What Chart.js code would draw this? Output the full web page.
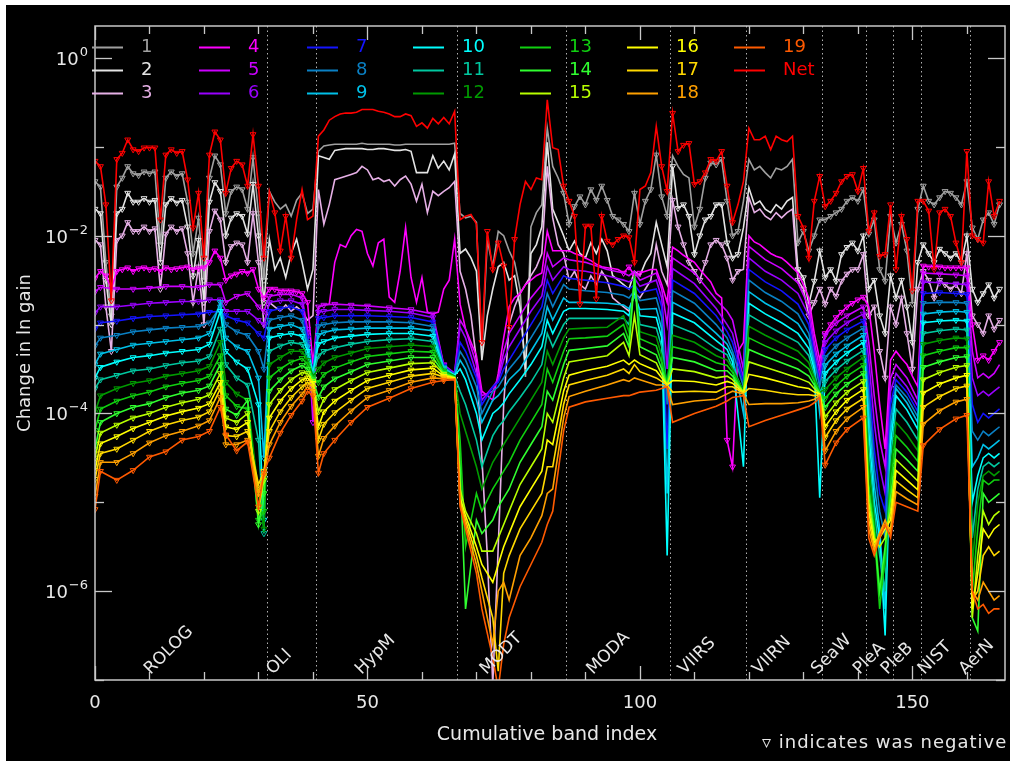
<!DOCTYPE html>
<html>
<head>
<meta charset="utf-8">
<title>Change in ln gain by cumulative band index</title>
<script src="https://cdn.jsdelivr.net/npm/chart.js@4.4.0/dist/chart.umd.min.js"></script>
<style>
  html, body { margin: 0; padding: 0; background: #fff; overflow: hidden; }
  canvas { display: block; }
</style>
</head>
<body>
<canvas id="gainChart" width="1010" height="766"></canvas>
<script>
// Band indices 0..166 across all sensors
const bandIdx = Array.from({ length: 167 }, (_, i) => i);

// Sensor groups: boundaries between them and where their names sit
const sensorEdges = [31.5, 40.5, 66.5, 86.5, 105.5, 119.5, 133.5, 141.5, 146.5, 151.5, 160.5];
const sensorNames = ['ROLOG', 'OLI', 'HypM', 'MODT', 'MODA', 'VIIRS', 'VIIRN', 'SeaW', 'PleA', 'PleB', 'NIST', 'AerN'];
const sensorLabelAt = [10.2, 32.6, 48.9, 71.8, 91.4, 108.2, 121.8, 132.6, 140.3, 145.4, 152.2, 159.7];

const xLabelTicks = [0, 50, 100, 150];
const yDecades = [-7, -6, -5, -4, -3, -2, -1, 0];
const yLabelExps = [0, -2, -4, -6];

// log10 of |change in ln gain|, every band (net and terms 1-4)
const gainNet = [
  -1.16,-1.22,-1.65,-2.73,-1.14,-1.07,-0.92,-1.03,-1.05,-1.01,-1.01,-1.01,-1.82,-1.09,-1.03,-1.07,-1.05,-1.37,-1.91,-1.52,-2.25,-1.09,-0.83,-0.92,-1.52,-1.24,-1.16,-1.20,-1.44,-0.86,-1.44,-2.25,
  -1.50,-1.74,-2.17,-1.78,-2.25,-1.82,-1.48,-1.82,-1.78,
  -0.88,-0.81,-0.70,-0.66,-0.63,-0.62,-0.62,-0.61,-0.58,-0.58,-0.58,-0.60,-0.61,-0.63,-0.66,-0.66,-0.63,-0.65,-0.77,-0.73,-0.79,-0.68,-0.74,-0.67,-0.74,-0.60,
  -1.82,-1.78,-1.76,-1.87,-3.20,-1.95,-2.38,-2.08,-2.34,-3.03,-2.04,-1.65,-1.39,-1.48,-1.35,-1.37,-0.47,-1.01,-1.03,-1.44,
  -1.61,-1.78,-2.77,-1.89,-1.89,-2.71,-1.78,-2.06,-2.10,-2.04,-2.00,-2.02,-2.30,-1.48,-1.44,-1.29,-0.77,-1.22,-1.50,
  -0.62,-1.05,-0.98,-0.96,-1.42,-1.39,-1.29,-1.14,-1.16,-1.05,-1.44,-1.85,-1.65,-1.39,
  -0.79,-0.92,-0.92,-0.88,-1.03,-0.88,-0.92,-0.94,-0.88,-1.78,-1.91,-2.25,-1.61,-1.33,
  -1.67,-1.61,-1.52,-1.39,-1.33,-1.31,-1.50,-1.24,
  -1.95,-1.74,-2.23,-2.21,-1.65,
  -2.38,-1.78,-2.04,-2.62,-1.61,
  -1.61,-1.72,-2.38,-1.74,-1.70,-1.78,-2.08,-2.30,-1.05,
  -2.00,-2.04,-2.08,-1.39,-1.78,-1.61
];
const gain1 = [
  -1.39,-1.45,-2.30,-2.90,-1.45,-1.35,-1.22,-1.30,-1.32,-1.28,-1.30,-1.28,-2.10,-1.35,-1.28,-1.33,-1.30,-1.62,-2.20,-1.80,-2.50,-1.35,-1.10,-1.20,-1.75,-1.50,-1.45,-1.48,-1.70,-1.12,-1.75,-2.50,
  -1.50,-1.62,-1.70,-1.65,-1.78,-1.60,-1.52,-1.75,-1.70,
  -1.05,-0.99,-0.98,-0.97,-0.97,-0.97,-0.97,-0.97,-0.96,-0.97,-0.97,-0.97,-0.97,-0.97,-0.98,-0.98,-0.97,-0.97,-0.97,-0.97,-0.97,-0.97,-0.97,-0.97,-0.97,-0.96,
  -1.75,-1.80,-1.78,-1.85,-3.30,-2.05,-2.35,-1.95,-2.00,-2.17,-2.30,-2.60,-3.59,-1.90,-1.74,-1.65,-0.79,-1.22,-1.35,-1.52,
  -1.87,-1.67,-1.56,-1.65,-1.48,-1.60,-1.44,-1.60,-1.78,-1.82,-1.87,-1.95,-1.52,-1.87,-1.61,-1.48,-1.09,-1.56,-1.78,
  -1.10,-1.22,-1.31,-1.35,-1.90,-1.70,-1.35,-1.18,-1.20,-1.14,-1.61,-2.00,-1.95,-1.61,
  -1.14,-1.26,-1.22,-1.29,-1.35,-1.24,-1.26,-1.22,-1.14,-2.08,-1.95,-2.17,-2.00,-1.82,
  -1.82,-1.78,-1.74,-1.70,-1.61,-1.57,-1.61,-1.48,
  -1.98,-1.82,-2.38,-2.51,-1.78,
  -2.08,-1.87,-2.17,-2.77,-1.70,
  -1.44,-1.61,-1.65,-1.57,-1.50,-1.52,-1.57,-1.65,-1.39,
  -1.91,-2.04,-1.82,-1.74,-1.87,-1.65
];
const gain2 = [
  -1.70,-1.75,-2.50,-3.00,-1.75,-1.70,-1.52,-1.62,-1.62,-1.58,-1.62,-1.60,-2.30,-1.65,-1.58,-1.63,-1.60,-1.90,-2.45,-2.05,-2.75,-1.62,-1.40,-1.50,-2.00,-1.80,-1.75,-1.78,-1.98,-1.42,-2.00,-2.75,
  -2.04,-2.38,-2.25,-2.47,-2.20,-2.04,-2.30,-2.60,-2.38,
  -1.10,-1.12,-1.14,-1.04,-1.03,-1.02,-1.02,-1.02,-1.02,-1.03,-1.03,-1.02,-1.02,-1.03,-1.04,-1.04,-1.03,-1.05,-1.29,-1.29,-1.29,-1.10,-1.24,-1.16,-1.26,-1.08,
  -2.20,-2.15,-2.25,-2.40,-3.40,-2.90,-2.60,-2.35,-2.30,-2.50,-2.45,-2.80,-3.50,-2.20,-2.10,-1.90,-0.95,-1.70,-1.85,-2.00,
  -2.17,-2.06,-2.20,-2.25,-2.08,-2.20,-2.04,-2.17,-2.45,-2.50,-2.55,-2.60,-2.40,-2.45,-2.30,-2.20,-1.85,-2.10,-2.35,
  -1.22,-1.69,-1.65,-1.78,-2.21,-2.00,-1.82,-1.78,-1.65,-1.65,-2.08,-2.25,-2.21,-1.91,
  -1.46,-1.65,-1.61,-1.70,-1.74,-1.65,-1.70,-1.61,-1.57,-2.38,-2.47,-2.77,-2.51,-2.17,
  -2.47,-2.38,-2.51,-2.21,-2.13,-2.08,-2.17,-2.00,
  -2.60,-2.50,-2.90,-3.10,-2.45,
  -2.70,-2.50,-2.80,-3.20,-2.30,
  -2.10,-2.20,-2.30,-2.15,-2.20,-2.25,-2.20,-2.30,-2.00,
  -2.60,-2.75,-2.65,-2.55,-2.70,-2.60
];
const gain3 = [
  -2.05,-2.10,-2.80,-3.30,-2.05,-2.00,-1.85,-1.95,-1.95,-1.90,-1.95,-1.92,-2.60,-1.98,-1.90,-1.95,-1.92,-2.20,-2.75,-2.35,-3.00,-1.95,-1.72,-1.82,-2.30,-2.12,-2.08,-2.10,-2.30,-1.75,-2.30,-3.00,
  -2.75,-2.80,-2.85,-2.78,-2.85,-2.80,-2.85,-2.95,-2.90,
  -1.48,-1.87,-1.65,-1.37,-1.35,-1.33,-1.31,-1.29,-1.22,-1.26,-1.37,-1.35,-1.39,-1.37,-1.44,-1.37,-1.33,-1.42,-1.61,-1.42,-1.74,-1.50,-1.55,-1.50,-1.46,-1.39,
  -2.40,-2.60,-2.90,-3.40,-4.50,-5.60,-7.05,-5.50,-3.90,-3.00,-2.80,-2.65,-2.55,-2.45,-2.35,-2.20,-1.22,-1.80,-2.10,-2.20,
  -2.50,-2.40,-2.55,-2.60,-2.45,-2.55,-2.40,-2.50,-2.70,-2.75,-2.80,-2.85,-2.65,-2.70,-2.60,-2.50,-2.10,-2.40,-2.55,
  -1.60,-1.90,-2.10,-2.30,-2.40,-2.50,-2.30,-2.10,-2.05,-2.10,-2.25,-2.50,-2.40,-2.38,
  -1.57,-1.74,-1.70,-1.78,-1.82,-1.74,-1.80,-1.74,-1.70,-2.50,-2.60,-2.90,-2.75,-2.60,
  -2.77,-2.60,-2.68,-2.51,-2.43,-2.38,-2.38,-2.21,
  -2.90,-2.80,-3.30,-3.60,-2.80,
  -3.00,-2.70,-3.10,-3.50,-2.60,
  -2.40,-2.50,-2.70,-2.50,-2.55,-2.60,-2.55,-2.65,-2.20,
  -2.90,-3.00,-3.10,-2.90,-3.05,-2.95
];
const gain4 = [
  -2.48,-2.40,-2.45,-2.60,-2.40,-2.38,-2.36,-2.40,-2.37,-2.36,-2.38,-2.37,-2.40,-2.36,-2.38,-2.37,-2.36,-2.35,-2.38,-2.37,-2.36,-2.30,-2.17,-2.25,-2.50,-2.45,-2.43,-2.40,-2.42,-2.38,-2.60,-2.70,
  -2.60,-2.60,-2.62,-2.62,-2.62,-2.63,-2.65,-2.75,-3.45,
  -2.80,-2.78,-2.77,-2.30,-2.10,-2.13,-2.00,-1.93,-1.95,-2.20,-2.34,-2.08,-2.04,-2.69,-2.75,-2.40,-1.91,-2.47,-2.75,-2.47,-2.86,-2.88,-2.86,-2.60,-2.50,-2.04,
  -2.77,-3.05,-3.20,-3.35,-3.75,-3.80,-3.85,-3.55,-3.15,-2.80,-2.70,-2.65,-2.55,-2.50,-2.45,-2.42,-1.95,-2.17,-2.17,-2.17,
  -2.17,-2.20,-2.22,-2.25,-2.28,-2.32,-2.35,-2.36,-2.37,-2.38,-2.42,-2.35,-2.45,-2.42,-2.40,-2.38,-2.38,-2.55,-2.75,
  -2.13,-2.17,-2.22,-2.26,-2.30,-2.38,-2.45,-2.52,-2.65,-2.70,-4.30,-4.60,-3.30,-3.20,
  -2.00,-2.07,-2.10,-2.15,-2.20,-2.23,-2.25,-2.30,-2.36,-2.42,-2.55,-2.70,-3.10,-3.40,
  -3.10,-3.00,-2.92,-2.86,-2.80,-2.76,-2.72,-2.69,
  -2.80,-3.30,-3.90,-4.40,-3.40,
  -3.30,-3.38,-3.45,-3.58,-3.70,
  -2.34,-2.35,-2.35,-2.35,-2.36,-2.36,-2.36,-2.36,-2.36,
  -3.00,-3.40,-3.35,-3.40,-3.30,-3.20
];

// Higher-order terms 5-19, read at these bands
const fanBands = [
  0, 1, 4, 7, 10, 13, 16, 19, 21, 23, 24, 26, 28, 30, 31,
  32, 34, 36, 38, 39, 40,
  41, 42, 44, 47, 50, 54, 58, 62, 64, 66,
  67, 68, 70, 71, 73, 74, 75, 76, 78, 80, 82, 83, 84, 86,
  87, 90, 94, 97, 98, 99, 100, 103, 104, 105,
  106, 110, 114, 116, 117, 119,
  120, 123, 126, 129, 131, 132, 133,
  134, 136, 138, 141,
  142, 143, 144, 145, 146,
  147, 149, 151,
  152, 155, 158, 160,
  161, 162, 163, 164, 165, 166
];
const gain5 = [
  -2.63,-2.58,-2.60,-2.60,-2.59,-2.57,-2.57,-2.58,-2.55,-2.55,-2.75,-2.68,-2.65,-2.80,-2.85,
  -2.68,-2.66,-2.66,-2.70,-3.05,-4.10,
  -2.80,-2.78,-2.77,-2.78,-2.79,-2.81,-2.83,-2.88,-3.45,-3.55,
  -2.95,-3.05,-3.45,-3.80,-3.75,-3.60,-3.30,-3.10,-2.90,-2.70,-2.55,-2.20,-2.35,-2.25,
  -2.27,-2.30,-2.38,-2.42,-2.45,-2.40,-2.50,-2.42,-2.60,-3.00,
  -2.25,-2.42,-2.72,-2.85,-2.95,-3.50,
  -2.12,-2.27,-2.37,-2.53,-2.80,-3.20,-3.50,
  -3.12,-2.98,-2.90,-2.80,
  -3.20,-3.80,-4.30,-4.60,-3.60,
  -3.45,-3.60,-3.85,
  -2.42,-2.43,-2.44,-2.45,
  -3.30,-3.60,-3.55,-3.60,-3.55,-3.45
];
const gain6 = [
  -2.87,-2.80,-2.80,-2.78,-2.76,-2.75,-2.74,-2.74,-2.72,-2.72,-2.85,-2.85,-2.85,-2.95,-3.00,
  -2.75,-2.73,-2.73,-2.77,-3.10,-3.60,
  -2.86,-2.85,-2.83,-2.83,-2.84,-2.85,-2.87,-2.92,-3.46,-3.55,
  -3.03,-3.15,-3.55,-3.85,-3.70,-3.62,-3.40,-3.25,-3.05,-2.85,-2.68,-2.35,-2.50,-2.35,
  -2.38,-2.40,-2.45,-2.50,-2.52,-2.48,-2.57,-2.50,-2.70,-3.50,
  -2.37,-2.54,-2.82,-3.00,-3.10,-3.60,
  -2.25,-2.40,-2.50,-2.65,-2.90,-3.27,-3.60,
  -3.20,-3.07,-2.98,-2.88,
  -3.40,-4.10,-4.60,-4.90,-3.75,
  -3.55,-3.70,-3.92,
  -2.52,-2.53,-2.54,-2.55,
  -3.60,-3.80,-3.75,-3.80,-3.75,-3.70
];
const gain7 = [
  -3.05,-2.98,-2.96,-2.93,-2.91,-2.90,-2.89,-2.88,-2.86,-2.85,-2.90,-2.95,-2.98,-3.10,-3.15,
  -2.85,-2.82,-2.80,-2.85,-3.15,-3.55,
  -2.93,-2.92,-2.90,-2.90,-2.90,-2.91,-2.92,-2.97,-3.47,-3.56,
  -3.20,-3.30,-3.60,-3.90,-3.70,-3.65,-3.50,-3.40,-3.20,-3.00,-2.80,-2.50,-2.65,-2.45,
  -2.48,-2.50,-2.53,-2.57,-2.60,-2.55,-2.64,-2.60,-2.80,-4.40,
  -2.50,-2.65,-2.90,-3.08,-3.20,-3.65,
  -2.38,-2.52,-2.62,-2.77,-3.00,-3.34,-3.65,
  -3.28,-3.15,-3.06,-2.96,
  -3.60,-4.40,-4.90,-5.10,-3.90,
  -3.62,-3.76,-3.98,
  -2.65,-2.64,-2.65,-2.66,
  -3.90,-4.10,-4.00,-4.05,-4.00,-3.95
];
const gain8 = [
  -3.24,-3.15,-3.12,-3.08,-3.06,-3.04,-3.03,-3.02,-2.98,-2.80,-3.00,-3.08,-3.12,-3.30,-3.50,
  -2.95,-2.92,-2.90,-2.95,-3.20,-3.55,
  -3.02,-3.00,-2.98,-2.97,-2.97,-2.97,-2.98,-3.02,-3.48,-3.56,
  -3.30,-3.40,-3.70,-4.00,-3.75,-3.70,-3.60,-3.50,-3.35,-3.15,-2.95,-2.65,-2.80,-2.55,
  -2.60,-2.62,-2.64,-2.67,-2.70,-2.62,-2.73,-2.70,-2.92,-3.90,
  -2.62,-2.76,-3.00,-3.15,-3.30,-3.70,
  -2.50,-2.64,-2.74,-2.88,-3.10,-3.40,-3.70,
  -3.37,-3.24,-3.15,-3.04,
  -3.80,-4.60,-5.10,-5.40,-4.05,
  -3.68,-3.82,-4.04,
  -2.76,-2.75,-2.75,-2.76,
  -4.20,-4.30,-4.20,-4.25,-4.20,-4.15
];
const gain9 = [
  -3.45,-3.33,-3.28,-3.23,-3.21,-3.19,-3.17,-3.15,-3.10,-2.75,-3.15,-3.25,-3.30,-3.60,-4.50,
  -3.05,-3.02,-3.00,-3.05,-3.25,-3.55,
  -3.12,-3.09,-3.06,-3.05,-3.04,-3.04,-3.04,-3.07,-3.49,-3.57,
  -3.40,-3.50,-3.85,-4.10,-3.85,-3.80,-3.72,-3.62,-3.50,-3.30,-3.10,-2.80,-2.95,-2.70,
  -2.75,-2.75,-2.76,-2.78,-2.82,-2.68,-2.83,-2.82,-3.05,-4.90,
  -2.75,-2.88,-3.10,-3.22,-3.35,-4.00,
  -2.63,-2.76,-2.86,-2.99,-3.18,-3.46,-4.00,
  -3.46,-3.33,-3.24,-3.12,
  -4.00,-4.80,-5.30,-6.20,-4.20,
  -3.72,-3.88,-4.10,
  -2.88,-2.86,-2.85,-2.86,
  -4.60,-4.50,-4.35,-4.40,-4.35,-4.30
];
const gain10 = [
  -3.60,-3.48,-3.42,-3.37,-3.35,-3.32,-3.30,-3.28,-3.22,-2.85,-3.30,-3.42,-3.50,-3.90,-5.20,
  -3.15,-3.12,-3.10,-3.13,-3.30,-3.56,
  -3.22,-3.19,-3.15,-3.13,-3.11,-3.10,-3.10,-3.13,-3.50,-3.57,
  -3.50,-3.62,-4.00,-4.30,-4.00,-3.95,-3.88,-3.78,-3.62,-3.45,-3.25,-2.95,-3.10,-2.85,
  -2.82,-2.82,-2.83,-2.85,-2.90,-2.60,-2.90,-2.92,-3.15,-5.60,
  -2.87,-2.98,-3.18,-3.28,-3.42,-4.60,
  -2.76,-2.88,-2.98,-3.10,-3.27,-3.51,-4.95,
  -3.55,-3.42,-3.32,-3.20,
  -4.20,-5.00,-5.40,-6.50,-4.35,
  -3.80,-3.96,-4.18,
  -2.98,-2.96,-2.95,-2.96,
  -5.00,-4.70,-4.50,-4.45,-4.50,-4.45
];
const gain11 = [
  -3.72,-3.62,-3.57,-3.52,-3.50,-3.46,-3.43,-3.41,-3.36,-3.05,-3.45,-3.60,-3.68,-4.30,-5.35,
  -3.30,-3.24,-3.20,-3.22,-3.35,-3.57,
  -3.35,-3.30,-3.26,-3.22,-3.19,-3.17,-3.16,-3.19,-3.50,-3.58,
  -3.75,-3.90,-4.30,-4.60,-4.25,-4.15,-4.08,-3.98,-3.82,-3.65,-3.45,-3.10,-3.25,-3.00,
  -2.93,-2.93,-2.93,-2.93,-3.00,-2.55,-3.00,-3.04,-3.25,-3.70,
  -3.00,-3.10,-3.27,-3.34,-3.48,-3.75,
  -2.89,-3.00,-3.10,-3.20,-3.35,-3.56,-3.76,
  -3.64,-3.51,-3.41,-3.29,
  -4.40,-5.10,-5.60,-6.00,-4.50,
  -3.95,-4.10,-4.30,
  -3.10,-3.07,-3.05,-3.06,
  -5.40,-4.85,-4.60,-4.55,-4.60,-4.55
];
const gain12 = [
  -3.99,-3.80,-3.72,-3.66,-3.63,-3.58,-3.55,-3.52,-3.47,-3.20,-3.65,-3.78,-3.85,-4.90,-5.30,
  -3.45,-3.37,-3.30,-3.30,-3.40,-3.58,
  -3.50,-3.43,-3.37,-3.32,-3.27,-3.25,-3.23,-3.25,-3.52,-3.58,
  -4.00,-4.20,-4.60,-4.85,-4.55,-4.45,-4.35,-4.25,-4.05,-3.85,-3.65,-3.30,-3.45,-3.15,
  -3.05,-3.04,-3.03,-2.90,-3.08,-2.50,-3.08,-3.14,-3.35,-3.68,
  -3.12,-3.20,-3.35,-3.40,-3.50,-3.75,
  -3.02,-3.12,-3.21,-3.30,-3.43,-3.60,-3.76,
  -3.73,-3.60,-3.50,-3.37,
  -4.60,-5.20,-6.00,-5.70,-4.65,
  -4.10,-4.24,-4.42,
  -3.22,-3.18,-3.15,-3.16,
  -5.70,-5.00,-4.70,-4.65,-4.70,-4.65
];
const gain13 = [
  -4.19,-3.95,-3.86,-3.80,-3.76,-3.70,-3.66,-3.63,-3.58,-3.35,-3.80,-3.92,-3.95,-5.20,-5.10,
  -3.60,-3.50,-3.42,-3.38,-3.45,-3.60,
  -3.65,-3.56,-3.49,-3.42,-3.36,-3.33,-3.30,-3.31,-3.53,-3.59,
  -4.30,-5.50,-4.90,-5.10,-4.85,-4.75,-4.65,-4.55,-4.30,-4.10,-3.90,-3.50,-3.65,-3.30,
  -3.16,-3.15,-3.13,-3.00,-3.18,-2.45,-3.16,-3.24,-3.43,-3.68,
  -3.25,-3.31,-3.43,-3.46,-3.54,-3.76,
  -3.15,-3.24,-3.32,-3.40,-3.50,-3.64,-3.77,
  -3.83,-3.69,-3.58,-3.46,
  -4.80,-5.30,-6.20,-5.60,-4.80,
  -4.25,-4.38,-4.54,
  -3.35,-3.30,-3.26,-3.26,
  -6.00,-5.30,-4.75,-4.80,-4.75,-4.75
];
const gain14 = [
  -4.40,-4.10,-4.00,-3.93,-3.89,-3.82,-3.77,-3.74,-3.69,-3.45,-3.95,-4.02,-3.85,-5.25,-4.90,
  -3.75,-3.62,-3.52,-3.46,-3.50,-3.62,
  -3.82,-3.70,-3.61,-3.53,-3.45,-3.41,-3.37,-3.37,-3.55,-3.59,
  -4.60,-6.20,-5.20,-5.35,-5.20,-5.05,-4.95,-4.85,-4.55,-4.35,-4.15,-3.75,-3.85,-3.45,
  -3.29,-3.27,-3.24,-3.10,-3.25,-2.48,-3.25,-3.34,-3.50,-3.68,
  -3.37,-3.42,-3.52,-3.52,-3.58,-3.76,
  -3.28,-3.36,-3.43,-3.50,-3.58,-3.68,-3.77,
  -3.93,-3.78,-3.67,-3.55,
  -4.90,-5.35,-6.00,-5.50,-4.95,
  -4.40,-4.52,-4.65,
  -3.48,-3.42,-3.37,-3.36,
  -6.30,-6.45,-4.90,-5.00,-4.95,-4.90
];
const gain15 = [
  -4.50,-4.22,-4.13,-4.05,-4.00,-3.93,-3.88,-3.84,-3.79,-3.55,-4.05,-4.10,-4.00,-5.10,-4.75,
  -3.90,-3.74,-3.62,-3.54,-3.55,-3.64,
  -3.98,-3.84,-3.73,-3.63,-3.54,-3.49,-3.44,-3.43,-3.56,-3.60,
  -4.85,-5.10,-5.35,-5.55,-5.55,-5.40,-5.25,-5.10,-4.80,-4.60,-4.40,-4.00,-4.10,-3.60,
  -3.42,-3.39,-3.35,-3.20,-3.35,-2.90,-3.34,-3.43,-3.56,-3.68,
  -3.50,-3.53,-3.60,-3.58,-3.62,-3.76,
  -3.42,-3.48,-3.54,-3.60,-3.65,-3.72,-3.78,
  -4.04,-3.88,-3.76,-3.64,
  -5.00,-5.40,-5.50,-5.40,-5.10,
  -4.52,-4.64,-4.76,
  -3.62,-3.54,-3.48,-3.46,
  -6.30,-5.60,-5.10,-5.25,-5.15,-5.10
];
const gain16 = [
  -4.64,-4.34,-4.26,-4.17,-4.10,-4.03,-3.98,-3.94,-3.89,-3.65,-4.15,-4.18,-4.10,-4.90,-4.70,
  -4.05,-3.86,-3.72,-3.62,-3.60,-3.66,
  -4.15,-3.98,-3.86,-3.74,-3.63,-3.57,-3.51,-3.49,-3.58,-3.60,
  -4.95,-5.15,-5.50,-5.70,-5.90,-5.70,-5.50,-5.35,-5.05,-4.85,-4.65,-4.30,-4.35,-3.75,
  -3.57,-3.52,-3.47,-3.40,-3.45,-3.40,-3.44,-3.52,-3.60,-3.68,
  -3.63,-3.64,-3.68,-3.64,-3.66,-3.77,
  -3.56,-3.60,-3.65,-3.70,-3.72,-3.76,-3.78,
  -4.15,-3.98,-3.85,-3.73,
  -5.10,-5.45,-5.40,-5.30,-5.20,
  -4.64,-4.75,-4.86,
  -3.77,-3.67,-3.60,-3.57,
  -6.20,-5.80,-5.30,-5.40,-5.30,-5.25
];
const gain17 = [
  -4.74,-4.45,-4.40,-4.30,-4.20,-4.13,-4.08,-4.04,-3.98,-3.72,-4.25,-4.26,-4.20,-4.80,-4.65,
  -4.20,-3.98,-3.82,-3.70,-3.65,-3.70,
  -4.30,-4.12,-3.99,-3.85,-3.72,-3.65,-3.58,-3.55,-3.59,-3.61,
  -5.00,-5.20,-5.60,-5.85,-6.30,-6.90,-5.80,-5.60,-5.30,-5.10,-4.90,-4.60,-4.60,-3.90,
  -3.68,-3.63,-3.57,-3.50,-3.55,-3.45,-3.53,-3.60,-3.64,-3.68,
  -3.76,-3.75,-3.76,-3.70,-3.70,-3.77,
  -3.72,-3.74,-3.77,-3.79,-3.79,-3.80,-3.79,
  -4.27,-4.08,-3.95,-3.83,
  -5.20,-5.50,-5.35,-5.25,-5.30,
  -4.76,-4.86,-4.95,
  -3.93,-3.81,-3.72,-3.69,
  -6.10,-6.00,-5.60,-5.50,-5.60,-5.55
];
const gain18 = [
  -4.93,-4.55,-4.55,-4.45,-4.33,-4.25,-4.20,-4.14,-4.08,-3.82,-4.35,-4.35,-4.30,-4.90,-4.70,
  -4.35,-4.10,-3.92,-3.78,-3.70,-3.75,
  -4.48,-4.28,-4.14,-3.97,-3.82,-3.74,-3.65,-3.60,-3.61,-3.61,
  -5.02,-5.25,-5.70,-6.00,-6.60,-6.00,-5.90,-6.10,-5.60,-5.40,-5.15,-4.90,-4.85,-4.05,
  -3.81,-3.75,-3.68,-3.62,-3.64,-3.60,-3.62,-3.68,-3.68,-3.70,
  -3.90,-3.86,-3.84,-3.78,-3.75,-3.78,
  -3.90,-3.89,-3.89,-3.88,-3.86,-3.84,-3.80,
  -4.42,-4.20,-4.06,-3.93,
  -5.30,-5.55,-5.35,-5.20,-5.35,
  -4.88,-4.96,-5.03,
  -4.12,-3.97,-3.87,-3.84,
  -6.00,-6.10,-5.90,-6.00,-6.10,-6.05
];
const gain19 = [
  -5.08,-4.65,-4.75,-4.64,-4.49,-4.43,-4.30,-4.26,-4.20,-3.93,-4.24,-4.42,-4.32,-5.05,-4.67,
  -4.50,-4.22,-4.02,-3.86,-3.75,-3.80,
  -4.67,-4.45,-4.30,-4.10,-3.93,-3.83,-3.72,-3.65,-3.63,-3.62,
  -5.05,-5.30,-5.80,-6.20,-6.75,-7.10,-6.60,-6.30,-5.95,-5.70,-5.45,-5.25,-5.10,-4.20,
  -3.93,-3.87,-3.83,-3.80,-3.80,-3.78,-3.76,-3.74,-3.72,-3.70,
  -4.10,-4.00,-3.92,-3.86,-3.82,-3.80,
  -4.15,-4.08,-4.02,-3.96,-3.92,-3.88,-3.82,
  -4.58,-4.33,-4.18,-4.05,
  -5.40,-5.60,-5.40,-5.25,-5.40,
  -5.00,-5.05,-5.10,
  -4.36,-4.18,-4.06,-4.02,
  -6.00,-6.20,-6.15,-6.25,-6.20,-6.20
];

// Band ranges where the term was negative (drawn with open triangles)
const negNet = [[0, 31], [33, 36], [71, 77], [86, 99], [104, 117], [129, 166]];
const neg1 = [[0, 31], [86, 105], [110, 118], [129, 166]];
const neg23 = [[0, 31], [106, 118], [129, 166]];
const neg4 = [[0, 40], [97, 100], [116, 117], [134, 141], [152, 166]];
const negFan = [[0, 40], [41, 65], [134, 141], [152, 160]];

const seriesColors = {
  '1': '#a0a0a0', '2': '#e4e4e4', '3': '#e6b0e6', '4': '#ff00ff', '5': '#cc00ff',
  '6': '#9900ff', '7': '#1414ff', '8': '#0a80c4', '9': '#00c0e8', '10': '#00ffff',
  '11': '#00c8a0', '12': '#009a00', '13': '#10d010', '14': '#30ff30', '15': '#b8ff00',
  '16': '#ffff00', '17': '#ffd800', '18': '#ffa000', '19': '#ff5a00', 'Net': '#ff0000'
};

const seriesList = [
  ['1', bandIdx, gain1, neg1], ['2', bandIdx, gain2, neg23], ['3', bandIdx, gain3, neg23],
  ['4', bandIdx, gain4, neg4], ['5', fanBands, gain5, negFan], ['6', fanBands, gain6, negFan],
  ['7', fanBands, gain7, negFan], ['8', fanBands, gain8, negFan], ['9', fanBands, gain9, negFan],
  ['10', fanBands, gain10, negFan], ['11', fanBands, gain11, negFan], ['12', fanBands, gain12, negFan],
  ['13', fanBands, gain13, negFan], ['14', fanBands, gain14, negFan], ['15', fanBands, gain15, negFan],
  ['16', fanBands, gain16, negFan], ['17', fanBands, gain17, negFan], ['18', fanBands, gain18, negFan],
  ['19', fanBands, gain19, negFan], ['Net', bandIdx, gainNet, negNet]
];

const inRanges = (b, ranges) => ranges.some(([lo, hi]) => b >= lo && b <= hi);

const datasets = seriesList.map(([name, xs, vals, neg], k) => {
  const color = seriesColors[name];
  return {
    label: name,
    data: xs.map((b, j) => ({ x: b, y: Math.pow(10, vals[j]) })),
    borderColor: color,
    backgroundColor: color,
    borderWidth: 1.6,
    pointStyle: 'triangle',
    pointRotation: 180,
    pointRadius: xs.map(b => inRanges(b, neg) ? 3.4 : 0),
    pointBorderColor: color,
    pointBackgroundColor: 'rgba(0,0,0,0)',
    pointBorderWidth: 1,
    fill: false,
    tension: 0,
    order: seriesList.length - k
  };
});

const FONT = "'DejaVu Sans', 'Liberation Sans', sans-serif";
const INK = '#e8e8e8';

// legend block: 7 columns x 3 rows inside the top of the plot
const legendCols = [92, 199, 307, 413, 520, 627, 734];
const legendRows = [47, 70, 93];

const decor = {
  id: 'decor',
  beforeDraw(chart) {
    const ctx = chart.ctx;
    ctx.save();
    ctx.fillStyle = '#ffffff';
    ctx.fillRect(0, 0, chart.width, chart.height);
    ctx.fillStyle = '#000000';
    ctx.fillRect(6, 5, chart.width - 6, chart.height - 10);
    ctx.restore();
  },
  beforeDatasetsDraw(chart) {
    const { ctx, chartArea: a, scales: { x } } = chart;
    ctx.save();
    ctx.strokeStyle = '#b0b0b0';
    ctx.lineWidth = 1;
    ctx.setLineDash([1.5, 3]);
    sensorEdges.forEach(b => {
      const px = Math.round(x.getPixelForValue(b)) + 0.5;
      ctx.beginPath();
      ctx.moveTo(px, a.top);
      ctx.lineTo(px, a.bottom);
      ctx.stroke();
    });
    ctx.restore();
  },
  afterDraw(chart) {
    const { ctx, chartArea: a, scales: { x, y } } = chart;
    ctx.save();

    // frame
    ctx.strokeStyle = '#c8c8c8';
    ctx.lineWidth = 1.5;
    ctx.strokeRect(a.left, a.top, a.right - a.left, a.bottom - a.top);

    // inward tick marks on all four sides
    const seg = (x0, y0, x1, y1) => { ctx.beginPath(); ctx.moveTo(x0, y0); ctx.lineTo(x1, y1); ctx.stroke(); };
    ctx.lineWidth = 1.3;
    for (let v = 0; v <= 160; v += 10) {
      const px = Math.round(x.getPixelForValue(v)) + 0.5;
      const len = v % 50 === 0 ? 14 : 8;
      seg(px, a.bottom, px, a.bottom - len);
      seg(px, a.top, px, a.top + len);
    }
    yDecades.forEach(e => {
      const py = Math.round(y.getPixelForValue(Math.pow(10, e))) + 0.5;
      const len = e % 2 === 0 ? 17 : 9;
      seg(a.left, py, a.left + len, py);
      seg(a.right, py, a.right - len, py);
    });

    // decade labels: "10" with a raised exponent
    ctx.fillStyle = INK;
    ctx.textBaseline = 'alphabetic';
    ctx.textAlign = 'left';
    yLabelExps.forEach(e => {
      const py = y.getPixelForValue(Math.pow(10, e));
      const expText = e === 0 ? '0' : '\u2212' + String(-e);
      ctx.font = `13px ${FONT}`;
      const expW = ctx.measureText(expText).width;
      ctx.font = `18px ${FONT}`;
      const baseW = ctx.measureText('10').width;
      const right = a.left - 7;
      ctx.fillText('10', right - expW - baseW - 1, py + 7);
      ctx.font = `13px ${FONT}`;
      ctx.fillText(expText, right - expW, py - 2);
    });

    // sensor names, slanted along the bottom
    ctx.font = `17px ${FONT}`;
    sensorNames.forEach((name, k) => {
      ctx.save();
      ctx.translate(x.getPixelForValue(sensorLabelAt[k]), a.bottom - 5);
      ctx.rotate(-Math.PI / 4);
      ctx.fillText(name, 0, 0);
      ctx.restore();
    });

    // axis titles and note
    ctx.font = `19px ${FONT}`;
    ctx.textAlign = 'center';
    ctx.textBaseline = 'middle';
    ctx.fillText('Cumulative band index', (a.left + a.right) / 2 - 3, a.bottom + 55);
    ctx.save();
    ctx.translate(25, (a.top + a.bottom) / 2);
    ctx.rotate(-Math.PI / 2);
    ctx.font = `18px ${FONT}`;
    ctx.fillText('Change in ln gain', 0, 0);
    ctx.restore();
    ctx.font = `18px ${FONT}`;
    ctx.textAlign = 'left';
    ctx.letterSpacing = '1px';
    ctx.fillText('\u25BF indicates was negative', 762, a.bottom + 63);
    ctx.letterSpacing = '0px';

    // legend
    ctx.font = `18px ${FONT}`;
    ctx.textBaseline = 'middle';
    ctx.lineWidth = 2;
    seriesList.forEach(([name], k) => {
      const lx = legendCols[Math.floor(k / 3)];
      const ly = legendRows[k % 3];
      const color = seriesColors[name];
      ctx.strokeStyle = color;
      seg(lx, ly + 0.5, lx + 31, ly + 0.5);
      ctx.fillStyle = color;
      ctx.fillText(name, lx + 49, ly);
    });

    ctx.restore();
  }
};

new Chart(document.getElementById('gainChart'), {
  type: 'line',
  data: { datasets },
  options: {
    responsive: false,
    animation: false,
    devicePixelRatio: 1,
    layout: { padding: { left: 0, top: 26, right: 3, bottom: 0 } },
    plugins: { legend: { display: false }, tooltip: { enabled: false } },
    scales: {
      x: {
        type: 'linear',
        min: 0,
        max: 167,
        grid: { display: false, drawTicks: false },
        border: { display: false },
        afterBuildTicks: s => { s.ticks = xLabelTicks.map(v => ({ value: v })); },
        afterFit: s => { s.height = 86; },
        ticks: { color: INK, font: { family: FONT, size: 18 }, padding: 13, maxRotation: 0, autoSkip: false }
      },
      y: {
        type: 'logarithmic',
        min: 1e-7,
        max: Math.pow(10, 0.36),
        grid: { display: false, drawTicks: false },
        border: { display: false },
        afterBuildTicks: s => { s.ticks = yDecades.map(e => ({ value: Math.pow(10, e) })); },
        afterFit: s => { s.width = 95; },
        ticks: { display: false }
      }
    }
  },
  plugins: [decor]
});
</script>
</body>
</html>
